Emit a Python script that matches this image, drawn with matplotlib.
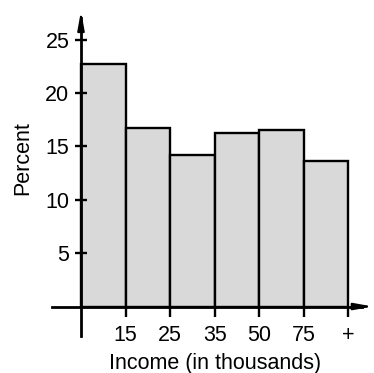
import matplotlib.pyplot as plt

plt.rcParams['font.family'] = ['Liberation Sans', 'DejaVu Sans']

# bar values (percent) per income class
labels = ["15", "25", "35", "50", "75", "+"]
percent = [22.7, 16.7, 14.2, 16.3, 16.5, 13.6]
yticks = [5, 10, 15, 20, 25]

fig = plt.figure(figsize=(3.74, 3.73), dpi=100)
ax = fig.add_axes([0, 0, 1, 1])

pos = [i + 0.5 for i in range(len(percent))]
ax.bar(pos, percent, width=1.0, color="#d9d9d9", edgecolor="black", linewidth=1.7)

ax.set_xlim(-1.818, 6.577)
ax.set_ylim(-6.23, 28.73)

for s in ["top", "right"]:
    ax.spines[s].set_visible(False)
ax.spines["left"].set_position(("data", 0))
ax.spines["bottom"].set_position(("data", 0))
ax.spines["left"].set_bounds(-2.74, 27.0)
ax.spines["bottom"].set_bounds(-0.65, 6.3)
ax.spines["left"].set_linewidth(2)
ax.spines["bottom"].set_linewidth(2)

ax.annotate("", xy=(0, 27.7), xytext=(0, 26.5),
            arrowprops=dict(arrowstyle="-|>,head_length=1.1,head_width=0.2",
                            color="black", lw=1.5, shrinkA=0, shrinkB=0))
ax.annotate("", xy=(6.55, 0), xytext=(6.25, 0),
            arrowprops=dict(arrowstyle="-|>,head_length=1.1,head_width=0.2",
                            color="black", lw=1.5, shrinkA=0, shrinkB=0))

ax.set_yticks(yticks)
ax.set_yticklabels([str(v) for v in yticks])
ax.set_xticks(range(1, len(labels) + 1))
ax.set_xticklabels(labels)
ax.tick_params(axis="y", direction="inout", length=8.6, width=1.7, labelsize=15.5, pad=4)
ax.tick_params(axis="x", direction="out", length=7, width=1.7, labelsize=15.5, pad=6)

ax.text(3.0, -5.3, "Income (in thousands)", ha="center", va="center", fontsize=15.5)
ax.text(-1.3, 13.9, "Percent", ha="center", va="center", rotation=90, fontsize=15.5)

fig.savefig("out.png", dpi=100)
